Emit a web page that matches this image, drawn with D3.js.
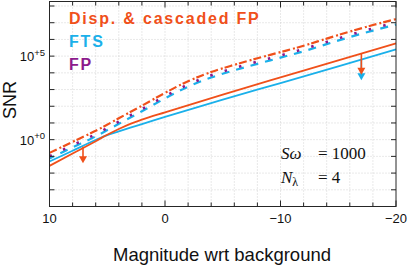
<!DOCTYPE html>
<html><head><meta charset="utf-8">
<script src="https://cdn.jsdelivr.net/npm/d3@7"></script>
<style>body{margin:0;background:#fff} svg{display:block}</style>
</head><body>
<svg id="c" width="407" height="269"></svg>
<script>
// ---------- data (log10 of SNR) ----------
const dashMag = [10, 8, 6, 4, 2, 0, -2, -4, -6, -8, -10, -12, -14, -16, -18, -20];
const dispCascDashLog = [-0.79, -0.13, 0.53, 1.28, 2.03, 2.80, 3.50, 4.05, 4.48, 4.87, 5.24, 5.62, 6.05, 6.47, 6.86, 7.22];
const fpDotLog        = [-0.99, -0.33, 0.33, 1.08, 1.83, 2.60, 3.30, 3.85, 4.28, 4.67, 5.04, 5.42, 5.85, 6.27, 6.66, 7.02];
const ftsDashLog      = [-1.12, -0.46, 0.20, 0.95, 1.70, 2.47, 3.17, 3.72, 4.15, 4.54, 4.91, 5.29, 5.72, 6.14, 6.53, 6.89];

const solidMag = [10, 8, 6, 5, 4, 3, 2, 0, -5, -10, -15, -20];
const dispSolidLog = [-1.57, -0.83, -0.09, 0.29, 0.64, 0.95, 1.20, 1.64, 2.70, 3.73, 4.75, 5.77];
const ftsSolidLog  = [-1.31, -0.66, -0.02, 0.27, 0.50, 0.72, 0.93, 1.36, 2.40, 3.39, 4.39, 5.40];

const arrowMag  = [7.1, -17, -17];
const arrowFrom = [-0.43, 4.80, 5.16];
const arrowTo   = [-1.41, 3.56, 3.89];
const arrowSeries = ["disp", "fts", "disp"];

const legendLabels = ["Disp. & cascaded FP", "FTS", "FP"];
const xTickValues = [10, 0, -10, -20];
const yTickExps = [0, 5];

const colors = {disp: "#f0501a", fts: "#1ab0ea", fp: "#8c1a8c"};

// ---------- scales ----------
const L = 49.5, R = 396, T = 1.5, B = 206.5;
const x = d3.scaleLinear().domain([10, -20]).range([L, R]);
const y = d3.scaleLog().domain([1e-4, Math.pow(10, 8.27)]).range([B, T]);
const svg = d3.select("#c");
const pw = v => Math.pow(10, v);

// grid
const gGrid = svg.append("g").attr("stroke", "#c8c8c8").attr("stroke-width", 0.8).attr("stroke-dasharray", "1,2");
gGrid.selectAll("line.v").data(d3.range(8, -20, -2)).join("line")
  .attr("x1", d => x(d)).attr("x2", d => x(d)).attr("y1", T).attr("y2", B);
gGrid.selectAll("line.h").data(d3.range(-3, 9)).join("line")
  .attr("y1", d => y(pw(d))).attr("y2", d => y(pw(d))).attr("x1", L).attr("x2", R);

// lines
const line = (mags, logs) => d3.line().curve(d3.curveMonotoneX)
  .x((d, i) => x(mags[i])).y((d, i) => y(pw(logs[i])))(logs);

svg.append("path").attr("d", line(solidMag, ftsSolidLog)).attr("fill", "none")
  .attr("stroke", colors.fts).attr("stroke-width", 1.8);
svg.append("path").attr("d", line(solidMag, dispSolidLog)).attr("fill", "none")
  .attr("stroke", colors.disp).attr("stroke-width", 1.8);

svg.append("path").attr("d", line(dashMag, ftsDashLog)).attr("fill", "none")
  .attr("stroke", colors.fts).attr("stroke-width", 2.2).attr("stroke-dasharray", "8,7").attr("stroke-dashoffset", 3);
svg.append("path").attr("d", line(dashMag, fpDotLog)).attr("fill", "none")
  .attr("stroke", colors.fp).attr("stroke-width", 2.6).attr("stroke-dasharray", "2.5,12.5");
svg.append("path").attr("d", line(dashMag, dispCascDashLog)).attr("fill", "none")
  .attr("stroke", colors.disp).attr("stroke-width", 2.2).attr("stroke-dasharray", "8,3,2,2");

// arrows
arrowMag.forEach((m, i) => {
  const c = colors[arrowSeries[i]];
  const xa = x(m), y0 = y(pw(arrowFrom[i])), y1 = y(pw(arrowTo[i]));
  svg.append("line").attr("x1", xa).attr("x2", xa).attr("y1", y0).attr("y2", y1 - 6)
    .attr("stroke", c).attr("stroke-width", 1.6);
  svg.append("path").attr("d", `M${xa - 4},${y1 - 7}L${xa + 4},${y1 - 7}L${xa},${y1}Z`).attr("fill", c);
});

// axes box and ticks
const ax = svg.append("g").attr("stroke", "#262626").attr("stroke-width", 1);
ax.append("rect").attr("x", L).attr("y", T).attr("width", R - L).attr("height", B - T).attr("fill", "none");
d3.range(10, -22, -2).forEach(v => {
  const len = (v % 10 === 0) ? 6 : 4;
  ax.append("line").attr("x1", x(v)).attr("x2", x(v)).attr("y1", B).attr("y2", B - len);
  ax.append("line").attr("x1", x(v)).attr("x2", x(v)).attr("y1", T).attr("y2", T + len);
});
d3.range(-4, 9).forEach(e => {
  const yy = y(pw(e));
  ax.append("line").attr("x1", L).attr("x2", L + 5).attr("y1", yy).attr("y2", yy);
  ax.append("line").attr("x1", R).attr("x2", R - 5).attr("y1", yy).attr("y2", yy);
});

// tick labels
const font = "'Liberation Sans', Arial, Helvetica, sans-serif";
svg.selectAll("text.xt").data(xTickValues).join("text")
  .attr("x", d => x(d)).attr("y", 223).attr("text-anchor", "middle")
  .attr("font-family", font).attr("font-size", 13).attr("fill", "#111")
  .text(d => d < 0 ? "\u2212" + Math.abs(d) : String(d));
yTickExps.forEach(e => {
  const t = svg.append("text").attr("x", 45).attr("y", y(pw(e)) + 5).attr("text-anchor", "end")
    .attr("font-family", font).attr("font-size", 13).attr("fill", "#111");
  t.append("tspan").text("10");
  t.append("tspan").attr("dy", -5.5).attr("font-size", 9.5).text("+" + e);
});

// axis labels
svg.append("text").attr("transform", "translate(16,100) rotate(-90)").attr("text-anchor", "middle")
  .attr("font-family", font).attr("font-size", 18).attr("fill", "#111").text("SNR");
svg.append("text").attr("x", 222).attr("y", 261).attr("text-anchor", "middle")
  .attr("font-family", font).attr("font-size", 18.5).attr("fill", "#111").text("Magnitude wrt background");

// legend
const legColors = [colors.disp, colors.fts, colors.fp];
const legY = [24, 47, 69.5];
legendLabels.forEach((s, i) => {
  svg.append("text").attr("x", 69).attr("y", legY[i]).attr("font-family", font)
    .attr("font-weight", "bold").attr("font-size", 16).attr("letter-spacing", 1.8)
    .attr("fill", legColors[i]).text(s);
});

// annotation
const serif = "'Liberation Serif', 'DejaVu Serif', serif";
const a1 = svg.append("text").attr("x", 281).attr("y", 159).attr("font-family", serif).attr("font-size", 17).attr("fill", "#111");
a1.append("tspan").attr("font-style", "italic").text("S\u03c9");
a1.append("tspan").attr("x", 318).text("= 1000");
const a2 = svg.append("text").attr("x", 281).attr("y", 183).attr("font-family", serif).attr("font-size", 17).attr("fill", "#111");
a2.append("tspan").attr("font-style", "italic").text("N");
a2.append("tspan").attr("font-size", 12).attr("dy", 3).text("\u03bb");
a2.append("tspan").attr("x", 318).attr("dy", -3).text("= 4");
</script>
</body></html>
